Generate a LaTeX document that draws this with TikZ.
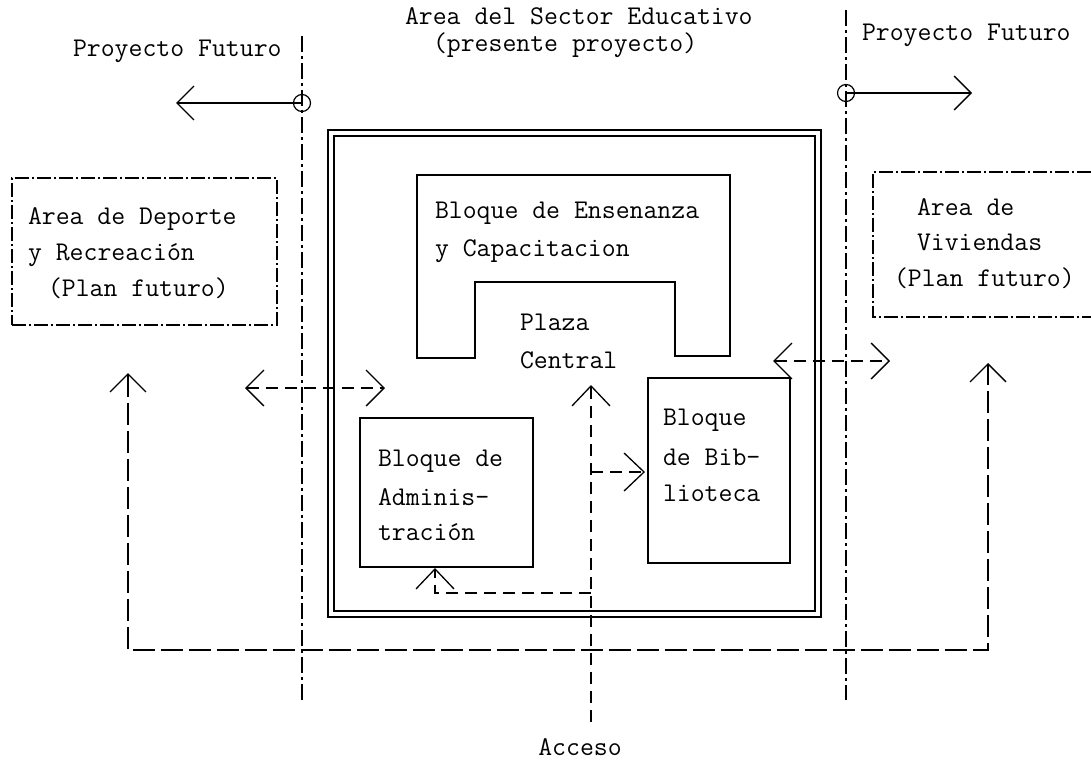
\documentclass[tikz,border=0pt]{standalone}
\usetikzlibrary{arrows.meta}
\begin{document}
\begin{tikzpicture}[x=1pt,y=-1pt,
  every node/.style={inner sep=0pt,outer sep=0pt},
  txt/.style={font=\fontsize{27}{37}\selectfont\ttfamily,anchor=base west},
  solidbox/.style={draw,line width=1.4pt},
  areabox/.style={draw,line width=1.3pt,dash pattern=on 14pt off 3pt on 2pt off 3pt},
  axisline/.style={line width=1.6pt,dash pattern=on 16pt off 4pt on 3pt off 4pt},
  conn/.style={line width=1.3pt,dash pattern=on 12pt off 7pt},
  loopline/.style={line width=1.3pt,dash pattern=on 22pt off 6pt},
  vtip/.style={-{Straight Barb[length=20pt,width=38pt,line width=1.3pt]}},
  vtips/.style={{Straight Barb[length=18pt,width=36pt,line width=1.3pt]}-{Straight Barb[length=18pt,width=36pt,line width=1.3pt]}},
  ftip/.style={-{Straight Barb[length=17pt,width=34pt,line width=1.3pt]}}
]
\useasboundingbox (0,0) rectangle (1091,771);

% titles
\node[txt] (t1) at (405,24) {Area del Sector Educativo};
\node[txt] (t2) at (433,51) {(presente proyecto)};
\node[txt] (pfl) at (73,56) {Proyecto Futuro};
\node[txt] (pfr) at (862,40) {Proyecto Futuro};

% axis lines
\coordinate (axlT) at (302,36);
\coordinate (axlB) at (302,700);
\coordinate (axrT) at (846,10);
\coordinate (axrB) at (846,700);
\draw[axisline] (axlT) -- (axlB);
\draw[axisline] (axrT) -- (axrB);

% circles and future arrows
\node[draw,circle,line width=1.2pt,minimum size=17pt] (cl) at (302,103) {};
\node[draw,circle,line width=1.2pt,minimum size=17pt] (cr) at (846,93) {};
\coordinate (fl) at (176,103);
\coordinate (fr) at (972,93);
\draw[line width=1.2pt,ftip] (cl.center) -- (fl);
\draw[line width=1.2pt,ftip] (cr.center) -- (fr);

% left area box
\node[areabox,minimum width=265pt,minimum height=147pt] (dep) at (144.5,251.5) {};
\node[txt] (dep1) at (28,224) {Area de Deporte};
\node[txt] (dep2) at (28,260) {y Recreación};
\node[txt] (dep3) at (48,296) {(Plan futuro)};

% right area box (open on the right)
\coordinate (viTR) at (1091,172);
\coordinate (viTL) at (873,172);
\coordinate (viBL) at (873,317);
\coordinate (viBR) at (1091,317);
\draw[areabox] (viTR) -- (viTL) -- (viBL) -- (viBR);
\node[txt] (viv1) at (917,215) {Area de};
\node[txt] (viv2) at (917,250) {Viviendas};
\node[txt] (viv3) at (894,286) {(Plan futuro)};

% double frame
\node[solidbox,minimum width=493pt,minimum height=487pt] (frOut) at (574.5,373.5) {};
\node[solidbox,minimum width=481pt,minimum height=475pt] (frIn) at (574.5,373.5) {};

% U-shaped teaching block
\draw[solidbox] (417,175) -- (730,175) -- (730,356) -- (675,356) -- (675,282)
  -- (475,282) -- (475,358) -- (417,358) -- cycle;
\node[txt] (ens1) at (435,218) {Bloque de Ensenanza};
\node[txt] (ens2) at (435,256) {y Capacitacion};
\node[txt] (pl1) at (520,330) {Plaza};
\node[txt] (pl2) at (520,368) {Central};

% administration block
\node[solidbox,minimum width=173pt,minimum height=149pt] (adm) at (446.5,492.5) {};
\node[txt] (adm1) at (378,466) {Bloque de};
\node[txt] (adm2) at (378,505) {Adminis-};
\node[txt] (adm3) at (378,540) {tración};

% library block
\node[solidbox,minimum width=142pt,minimum height=185pt] (bib) at (719,470.5) {};
\node[txt] (bib1) at (663,425) {Bloque};
\node[txt] (bib2) at (663,465) {de Bib-};
\node[txt] (bib3) at (663,501) {lioteca};

% access
\node[txt,anchor=base] (acc) at (580,755) {Acceso};
\coordinate (accTop) at (591,722);
\coordinate (plTip) at (591,385);
\draw[conn,vtip] (accTop) -- (plTip);
\coordinate (j1) at (591,472);
\coordinate (bibIn) at (645,472);
\draw[conn,vtip] (j1) -- (bibIn);
\coordinate (j2) at (591,593);
\coordinate (admC) at (435,593);
\coordinate (admIn) at (435,568);
\draw[conn,vtip] (j2) -- (admC) -- (admIn);

% side double arrows
\coordinate (dl1) at (245,388);
\coordinate (dl2) at (385,388);
\draw[conn,vtips] (dl1) -- (dl2);
\coordinate (dr1) at (773,361);
\coordinate (dr2) at (890,361);
\draw[conn,vtips] (dr1) -- (dr2);

% big loop
\coordinate (lpA) at (128,373);
\coordinate (lpB) at (128,650);
\coordinate (lpC) at (988,650);
\coordinate (lpD) at (988,363);
\draw[loopline,vtips] (lpA) -- (lpB) -- (lpC) -- (lpD);
\end{tikzpicture}
\end{document}
